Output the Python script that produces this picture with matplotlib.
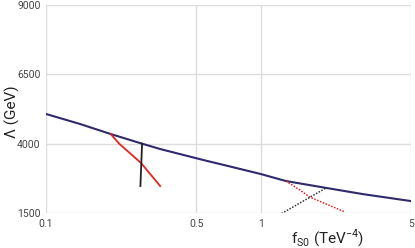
import matplotlib.pyplot as plt

plt.rcParams['font.family'] = ['Roboto', 'DejaVu Sans']

# blue limit curve
fs0_limit = [0.1, 0.144, 0.2, 0.28, 0.34, 0.54, 0.7, 1.0, 1.31, 2.03, 3.0, 5.0]
lam_limit = [5070, 4709, 4348, 4000, 3807, 3411, 3200, 2906, 2653, 2401, 2180, 1932]

# solid red / black lines (left)
fs0_red = [0.2, 0.219, 0.277, 0.34]
lam_red = [4348, 4000, 3302, 2473]
fs0_black = [0.28, 0.275]
lam_black = [4000, 2473]

# dotted red / black lines (right)
fs0_red_dot = [1.31, 1.52, 1.69, 2.47]
lam_red_dot = [2653, 2329, 2077, 1536]
fs0_black_dot = [1.25, 2.01]
lam_black_dot = [1480, 2401]

fig = plt.figure(figsize=(4.15, 2.48), dpi=100)
ax = fig.add_axes([0.111, 0.141, 0.879, 0.839])

ax.plot(fs0_limit, lam_limit, color='#2e2a6b', lw=1.5, zorder=3)
ax.plot(fs0_red, lam_red, color='#e5231f', lw=1.3, zorder=4)
ax.plot(fs0_black, lam_black, color='#222222', lw=1.3, zorder=4)
ax.plot(fs0_red_dot, lam_red_dot, color='#e5231f', lw=1.1, ls=(0, (1, 1)), zorder=4)
ax.plot(fs0_black_dot, lam_black_dot, color='#333333', lw=1.1, ls=(0, (1, 1)), zorder=4)

ax.set_xscale('log')
ax.set_xlim(0.1, 5)
ax.set_ylim(1500, 9000)
ax.set_xticks([0.1, 0.5, 1, 5])
ax.set_xticklabels(['0.1', '0.5', '1', '5'])
ax.set_xticks([], minor=True)
ax.set_yticks([1500, 4000, 6500, 9000])
ax.grid(True, color='#dddddd', lw=1)
for s in ax.spines.values():
    s.set_visible(False)
ax.tick_params(length=0, labelsize=7.5, colors='#444444', pad=4)

fig.text(0.03, 0.55, 'Λ (GeV)', rotation=90, ha='center', va='center', fontsize=11, color='#222222')
fig.text(0.79, 0.04, r'f$_{\mathregular{S0}}$ (TeV$^{\mathregular{-4}}$)', ha='center', va='center',
         fontsize=11, color='#222222')

fig.savefig('out.png', dpi=100)
